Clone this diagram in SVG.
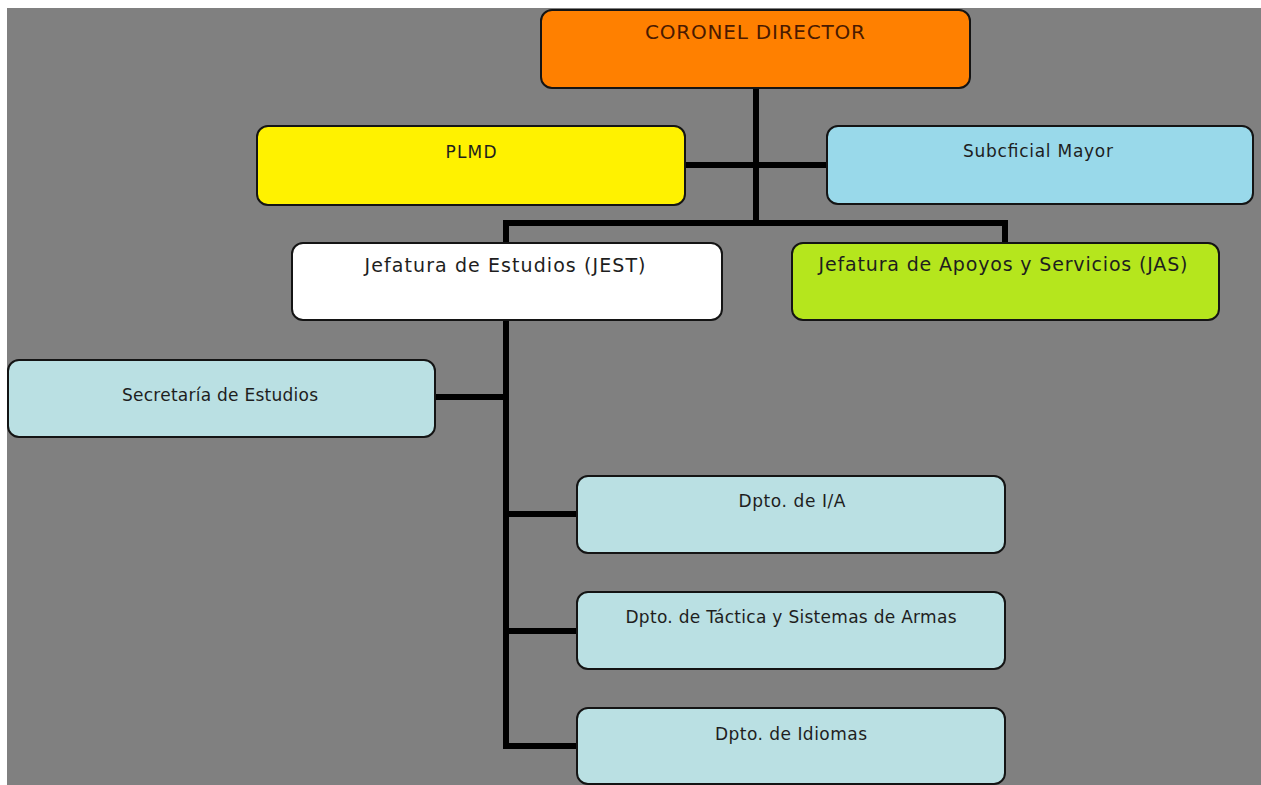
<svg xmlns="http://www.w3.org/2000/svg" width="1261" height="785" viewBox="0 0 1261 785">
  <style>
    .box { stroke: #141414; stroke-width: 2; }
    .lbl { font-family: "DejaVu Sans", Verdana, sans-serif; fill: #1e1e1e; text-anchor: middle; }
    .conn { stroke: #000; stroke-width: 6; fill: none; stroke-linecap: square; }
  </style>
  <rect x="0" y="0" width="1261" height="785" fill="#ffffff"/>
  <rect x="7" y="8" width="1254" height="777" fill="#808080"/>

  <g id="connectors">
    <path class="conn" d="M756,88 V223"/>
    <path class="conn" d="M685,165 H827" stroke-linecap="butt"/>
    <path class="conn" d="M506,243 V223 H1005 V243" stroke-linecap="butt"/>
    <path class="conn" d="M506,320 V746 H577" stroke-linecap="butt"/>
    <path class="conn" d="M435,397 H506" stroke-linecap="butt"/>
    <path class="conn" d="M506,514 H577" stroke-linecap="butt"/>
    <path class="conn" d="M506,631 H577" stroke-linecap="butt"/>
  </g>

  <g id="coronel-director">
    <rect class="box" x="541" y="10" width="429" height="78" rx="11" fill="#FF8000"/>
    <text class="lbl" x="755" y="39" font-size="20" textLength="220" style="fill:#4a1a00">CORONEL DIRECTOR</text>
  </g>
  <g id="plmd">
    <rect class="box" x="257" y="126" width="428" height="79" rx="11" fill="#FFF200"/>
    <text class="lbl" x="471" y="158" font-size="17" textLength="51">PLMD</text>
  </g>
  <g id="subcficial-mayor">
    <rect class="box" x="827" y="126" width="426" height="78" rx="11" fill="#99D9EA"/>
    <text class="lbl" x="1038" y="157" font-size="17" textLength="150">Subcficial Mayor</text>
  </g>
  <g id="jest">
    <rect class="box" x="292" y="243" width="430" height="77" rx="11" fill="#FFFFFF"/>
    <text class="lbl" x="505" y="272" font-size="19" textLength="281">Jefatura de Estudios (JEST)</text>
  </g>
  <g id="jas">
    <rect class="box" x="792" y="243" width="427" height="77" rx="11" fill="#B5E61D"/>
    <text class="lbl" x="1003" y="271" font-size="19" textLength="369">Jefatura de Apoyos y Servicios (JAS)</text>
  </g>
  <g id="secretaria">
    <rect class="box" x="8" y="360" width="427" height="77" rx="11" fill="#BAE0E3"/>
    <text class="lbl" x="220" y="401" font-size="17" textLength="196">Secretaría de Estudios</text>
  </g>
  <g id="dpto-ia">
    <rect class="box" x="577" y="476" width="428" height="77" rx="11" fill="#BAE0E3"/>
    <text class="lbl" x="792" y="507" font-size="17" textLength="107">Dpto. de I/A</text>
  </g>
  <g id="dpto-tactica">
    <rect class="box" x="577" y="592" width="428" height="77" rx="11" fill="#BAE0E3"/>
    <text class="lbl" x="791" y="623" font-size="17" textLength="331">Dpto. de Táctica y Sistemas de Armas</text>
  </g>
  <g id="dpto-idiomas">
    <rect class="box" x="577" y="708" width="428" height="76" rx="11" fill="#BAE0E3"/>
    <text class="lbl" x="791" y="740" font-size="17" textLength="152">Dpto. de Idiomas</text>
  </g>
</svg>
